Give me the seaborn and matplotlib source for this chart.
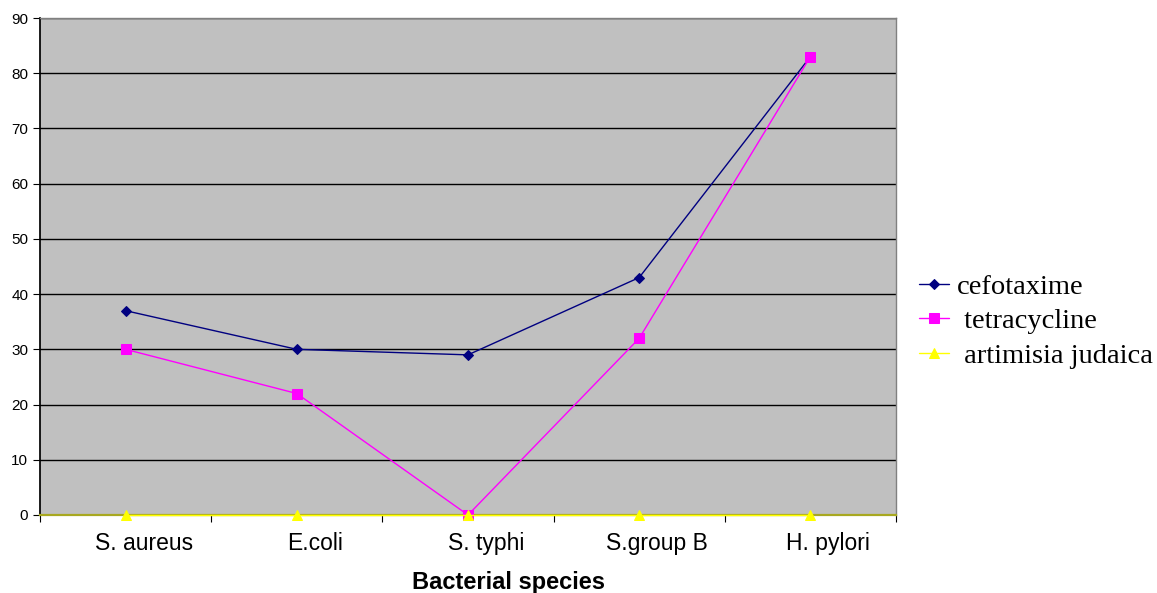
import matplotlib
matplotlib.use("Agg")
import matplotlib.pyplot as plt
import matplotlib.transforms as mtransforms
import seaborn as sns
import pandas as pd
import numpy as np

categories = ["S. aureus", "E.coli", "S. typhi", "S.group B", "H. pylori"]
cefotaxime = [37, 30, 29, 43, 83]
tetracycline = [30, 22, 0, 32, 83]
artimisia = [0, 0, 0, 0, 0]
series_names = ["cefotaxime", " tetracycline", " artimisia judaica"]
yticks = list(range(0, 91, 10))

sns.set_theme(style="white")
plt.rcParams['font.family'] = ['Liberation Sans', 'DejaVu Sans']
plt.rcParams['text.color'] = 'black'

fig = plt.figure(figsize=(11.57, 5.93), dpi=100)
ax = fig.add_axes([40/1157, 78/593, 856/1157, 497/593])
ax.set_facecolor("#C0C0C0")

xpos = np.arange(len(categories))
styles = [
    (cefotaxime, "#000080", "D", 5),
    (tetracycline, "#FF00FF", "s", 6.5),
    (artimisia, "#FFFF00", "^", 7.5),
]
for (vals, color, marker, ms), name in zip(styles, series_names):
    sns.lineplot(x=xpos, y=vals, ax=ax, color=color, marker=marker, markersize=ms,
                 markeredgecolor=color, linewidth=1, label=name, sort=False,
                 clip_on=False, zorder=3)

ax.set_xlim(-0.5, len(categories) - 0.5)
ax.set_ylim(0, 90)
ax.set_yticks(yticks)
ax.yaxis.grid(True, color="black", linewidth=1)
ax.set_axisbelow(True)
ax.set_xticks(xpos)
ax.set_xticklabels(categories, fontsize=16.5)
ax.set_xticks(np.arange(-0.5, len(categories), 1), minor=True)
ax.tick_params(axis="x", which="major", length=0, pad=12, labelcolor="black")
ax.tick_params(axis="x", which="minor", bottom=True, length=5, width=0.8, color="black", direction="out")
ax.tick_params(axis="y", left=True, length=5, width=0.8, color="black", direction="out",
               labelsize=11, pad=3.5, labelcolor="black")
for s in ["top", "right"]:
    ax.spines[s].set_color("#808080")
    ax.spines[s].set_linewidth(1)
ax.spines["left"].set_color("black")
ax.spines["bottom"].set_color("#A8A820")
ax.spines["bottom"].set_linewidth(1.6)
ax.set_xlabel("Bacterial species", fontsize=17, fontweight="bold", color="black")
ax.xaxis.set_label_coords(0.547, -0.112)
ax.set_ylabel("")

leg = ax.legend(loc="center left", bbox_to_anchor=(919/1157, 0.458), bbox_transform=fig.transFigure,
                frameon=False, prop={"family": "Liberation Serif", "size": 20.5},
                handlelength=1.05, handletextpad=0.28, labelspacing=0.3, borderpad=0,
                borderaxespad=0)
for t in leg.get_texts():
    t.set_color("black")

# labels sit slightly right of their category centres, as in the reference
offset = mtransforms.ScaledTranslation(18/100, 0, fig.dpi_scale_trans)
for tick in ax.xaxis.get_major_ticks():
    tick.label1.set_transform(tick.label1.get_transform() + offset)

fig.savefig("out.png", dpi=100)
